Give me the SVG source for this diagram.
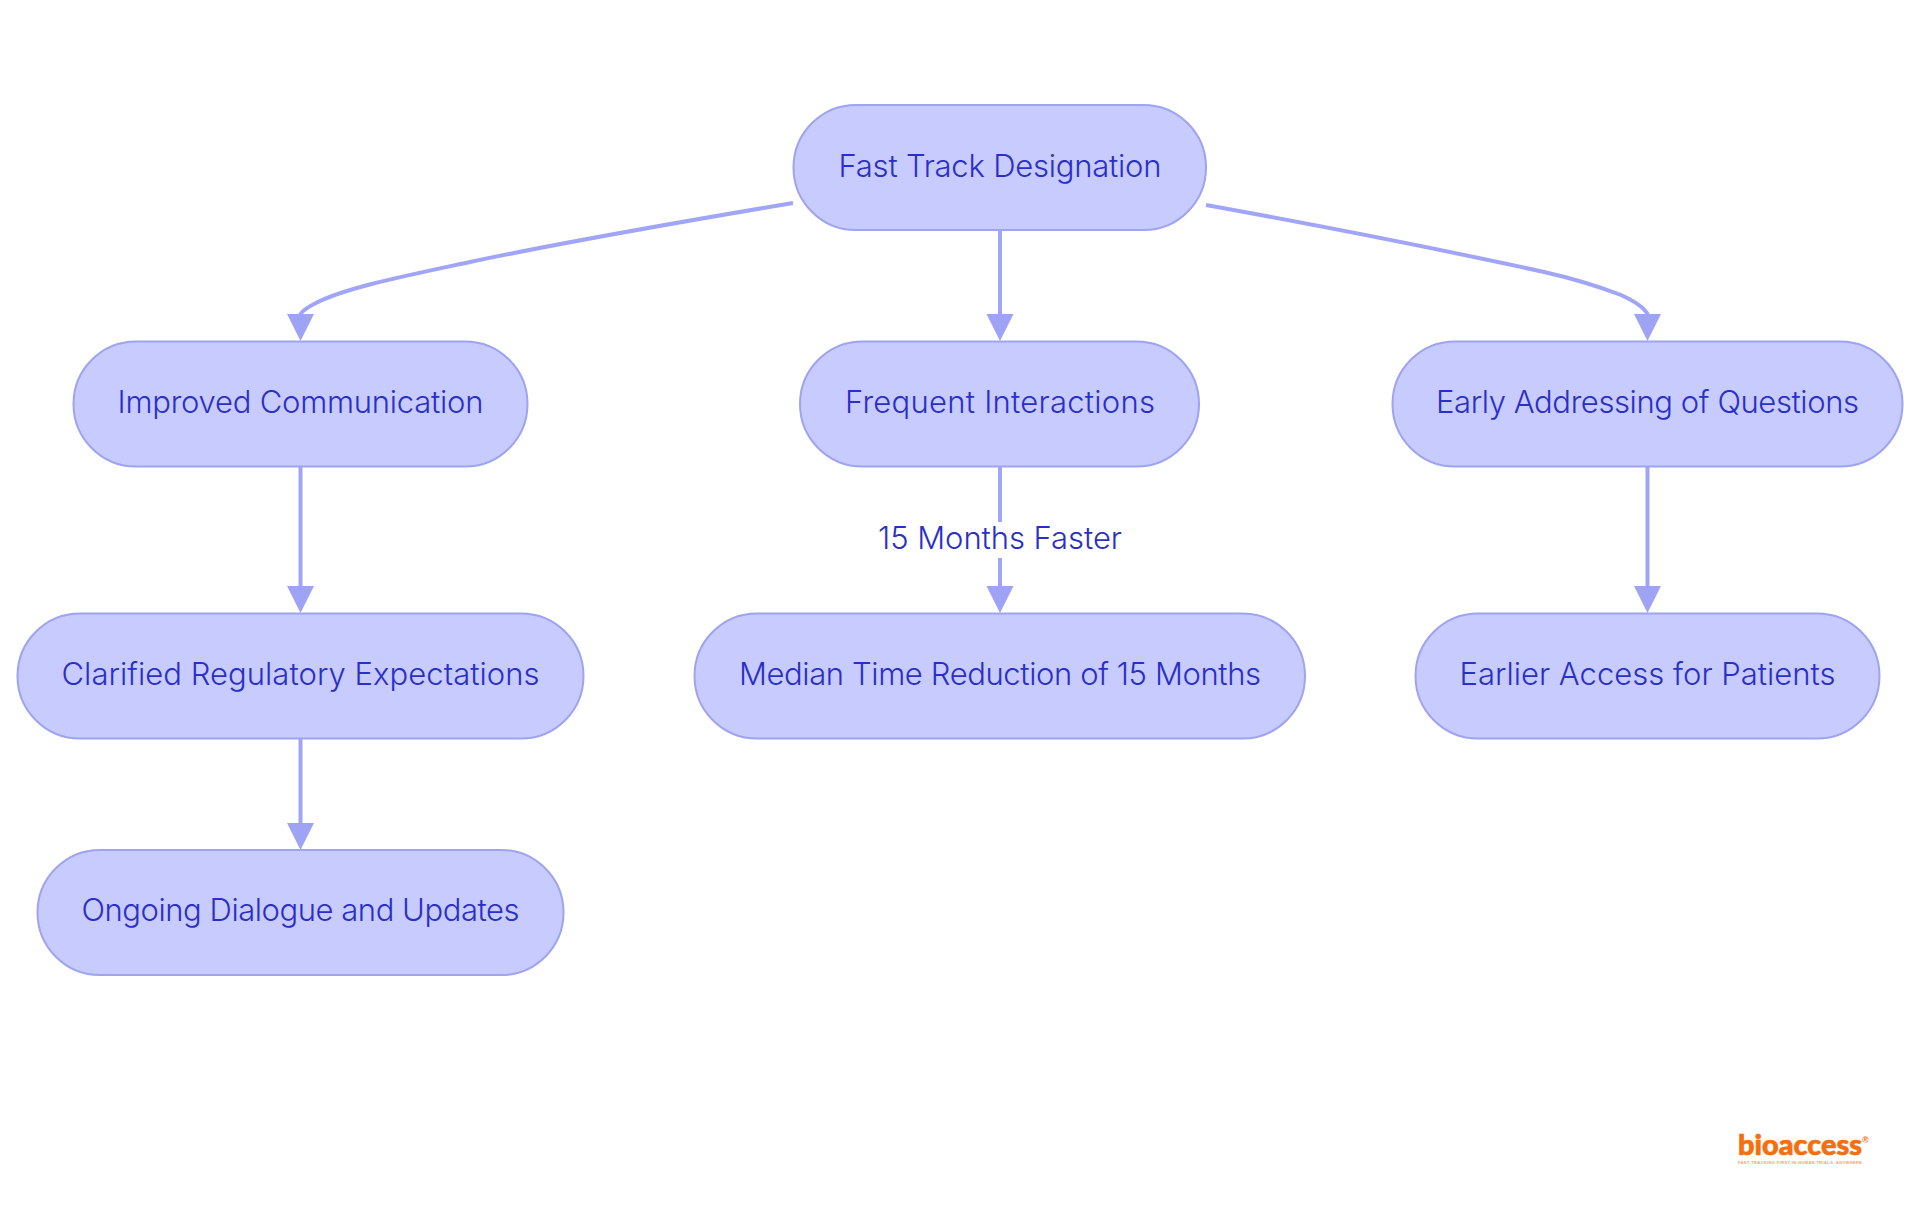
<svg xmlns="http://www.w3.org/2000/svg" width="1920" height="1215" viewBox="0 0 1920 1215">
<style>
.n{fill:#c8cbfd;stroke:#9ea3f2;stroke-width:2}
.t{font-family:Inter,"Noto Sans","Liberation Sans",sans-serif;font-size:31px;font-weight:300;fill:#2a2fc9;text-anchor:middle;dominant-baseline:central}
.e{fill:none;stroke:#a0a5f7;stroke-width:4}
.l1{font-family:Lato,"Open Sans","Liberation Sans",sans-serif;font-weight:900;fill:#f66f0e;stroke:#f66f0e;stroke-width:0.7}
.l2{font-family:"Liberation Sans",sans-serif;font-weight:700;fill:#f8a06a}
</style>
<defs>
<marker id="a" markerUnits="userSpaceOnUse" markerWidth="30" markerHeight="30" refX="1" refY="14" orient="auto"><path d="M0,0.5 L27,14 L0,27.5 Z" fill="#9ea3f5"/></marker>
</defs>
<rect width="1920" height="1215" fill="#fff"/>
<g id="connectors">
<path class="e" marker-end="url(#a)" d="M793,203 C680,222 560,243 470,262 C400,277 345,288 316,303 C308,307 303,310 300.500,314 L300.500,315"/>
<path class="e" marker-end="url(#a)" d="M1000,230 L1000,315"/>
<path class="e" marker-end="url(#a)" d="M1206,205 C1300,222 1430,247 1544,272 C1580,280 1600,287 1621,295 C1632,300 1643,306 1647.500,314 L1647.500,315"/>
<path class="e" marker-end="url(#a)" d="M300.500,466 L300.500,587"/>
<path class="e" marker-end="url(#a)" d="M1000,466 L1000,587"/>
<path class="e" marker-end="url(#a)" d="M1647.500,466 L1647.500,587"/>
<path class="e" marker-end="url(#a)" d="M300.500,738 L300.500,824"/>
</g>
<g id="edge-label">
<rect x="878" y="522" width="244" height="36" fill="#fff"/>
<text class="t" x="1000" y="537.500" textLength="244">15 Months Faster</text>
</g>
<g id="n1"><rect class="n" x="793.500" y="105" width="412.500" height="125" rx="62.500"/><text class="t" x="1000" y="165.500" textLength="323">Fast Track Designation</text></g>
<g id="n2"><rect class="n" x="73.500" y="341.500" width="454" height="125" rx="62.500"/><text class="t" x="300.500" y="401.500" textLength="366">Improved Communication</text></g>
<g id="n3"><rect class="n" x="800" y="341.500" width="399" height="125" rx="62.500"/><text class="t" x="1000" y="401.500" textLength="310">Frequent Interactions</text></g>
<g id="n4"><rect class="n" x="1392.500" y="341.500" width="510" height="125" rx="62.500"/><text class="t" x="1647.500" y="401.500" textLength="423">Early Addressing of Questions</text></g>
<g id="n5"><rect class="n" x="17.500" y="613.500" width="566" height="125" rx="62.500"/><text class="t" x="300.500" y="673.500" textLength="478">Clarified Regulatory Expectations</text></g>
<g id="n6"><rect class="n" x="694.500" y="613.500" width="610.500" height="125" rx="62.500"/><text class="t" x="1000" y="673.500" textLength="522">Median Time Reduction of 15 Months</text></g>
<g id="n7"><rect class="n" x="1415.500" y="613.500" width="464" height="125" rx="62.500"/><text class="t" x="1647.500" y="673.500" textLength="376">Earlier Access for Patients</text></g>
<g id="n8"><rect class="n" x="37.500" y="850" width="526" height="125" rx="62.500"/><text class="t" x="300.500" y="909.500" textLength="438">Ongoing Dialogue and Updates</text></g>
<g id="logo">
<text class="l1" x="1738" y="1155" font-size="29" textLength="124" lengthAdjust="spacingAndGlyphs">bioaccess</text>
<text class="l2" x="1862" y="1143" font-size="9" fill="#f66f0e" style="fill:#f66f0e">®</text>
<text class="l2" x="1738" y="1163.500" font-size="4" textLength="124">FAST-TRACKING FIRST-IN-HUMAN TRIALS, ANYWHERE</text>
</g>
</svg>
